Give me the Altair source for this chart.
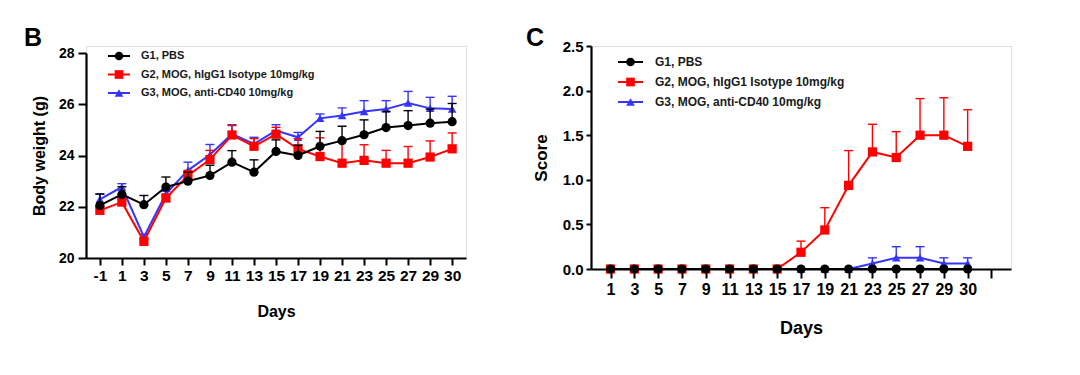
import altair as alt
import pandas as pd

# ---------------- data ----------------
groups = ["G1, PBS", "G2, MOG, hIgG1 Isotype 10mg/kg", "G3, MOG, anti-CD40 10mg/kg"]
colors = ["#000000", "#ff0000", "#3535ff"]
shapes = ["circle", "square", "triangle-up"]

# Panel B: body weight
days_b = ["-1", "1", "3", "5", "7", "9", "11", "13", "15", "17", "19", "21", "23", "25", "27", "29", "30"]
g1_bw = [22.05, 22.48, 22.08, 22.77, 23.00, 23.22, 23.74, 23.35, 24.16, 24.00, 24.36, 24.58, 24.81, 25.09, 25.17, 25.26, 25.32]
g1_bw_err = [0.45, 0.30, 0.36, 0.39, 0.35, 0.40, 0.45, 0.48, 0.45, 0.40, 0.58, 0.56, 0.58, 0.63, 0.58, 0.55, 0.71]
g2_bw = [21.86, 22.18, 20.65, 22.34, 23.22, 23.84, 24.80, 24.36, 24.83, 24.26, 23.96, 23.70, 23.81, 23.70, 23.70, 23.94, 24.26]
g2_bw_err = [0.15, 0.15, 0.10, 0.15, 0.20, 0.36, 0.37, 0.30, 0.27, 0.40, 0.73, 0.88, 0.61, 0.50, 0.65, 0.63, 0.62]
g3_bw = [22.29, 22.77, 20.82, 22.50, 23.42, 24.03, 24.84, 24.45, 24.97, 24.71, 25.45, 25.56, 25.72, 25.81, 26.05, 25.84, 25.81]
g3_bw_err = [0.20, 0.13, 0.10, 0.10, 0.32, 0.40, 0.36, 0.26, 0.23, 0.19, 0.17, 0.30, 0.42, 0.33, 0.45, 0.43, 0.50]

# Panel C: clinical score
days_c = ["1", "3", "5", "7", "9", "11", "13", "15", "17", "19", "21", "23", "25", "27", "29", "30"]
axis_slots_c = days_c + ["31"]
g1_sc = [0.0] * 16
g1_sc_err = [0.0] * 16
g2_sc = [0, 0, 0, 0, 0, 0, 0, 0, 0.1875, 0.4375, 0.9375, 1.3125, 1.25, 1.5, 1.5, 1.375]
g2_sc_err = [0, 0, 0, 0, 0, 0, 0, 0, 0.125, 0.25, 0.39, 0.31, 0.29, 0.41, 0.42, 0.41]
g3_sc = [0, 0, 0, 0, 0, 0, 0, 0, 0, 0, 0, 0.0625, 0.125, 0.125, 0.0625, 0.0625]
g3_sc_err = [0, 0, 0, 0, 0, 0, 0, 0, 0, 0, 0, 0.0625, 0.125, 0.125, 0.0625, 0.0625]

FONT = "Liberation Sans"


def panel(letter, days, slots, series, x_axis, y_scale, y_axis, width, height,
          leg_x, leg_y, leg_font, letter_xy, pad):
    X = alt.X("day:O", scale=alt.Scale(type="point", domain=slots, padding=pad), axis=x_axis)
    Y = alt.Y("mean:Q", scale=y_scale, axis=y_axis)
    layers = []
    # draw G3 first, G1 last (on top)
    for gi in [2, 1, 0]:
        m, e = series[gi]
        df = pd.DataFrame({"day": days, "mean": m, "err": e})
        df["top"] = df["mean"] + df["err"]
        dfe = df[df["err"] > 0]
        c = colors[gi]
        sw = 1.4
        layers.append(alt.Chart(dfe).mark_rule(color=c, strokeWidth=sw).encode(
            x=X, y=Y, y2="top:Q"))
        layers.append(alt.Chart(dfe).mark_tick(color=c, thickness=sw, size=9, opacity=1).encode(
            x=X, y=alt.Y("top:Q", scale=y_scale, axis=y_axis)))
        layers.append(alt.Chart(df).mark_line(color=c, strokeWidth=2).encode(x=X, y=Y))
        layers.append(alt.Chart(df).mark_point(filled=True, color=c, opacity=1,
                                               size=85 if gi < 2 else 75,
                                               shape=shapes[gi]).encode(x=X, y=Y))
    data_layer = alt.layer(*layers)

    leg_df = pd.DataFrame({"label": groups})
    LY = alt.Y("label:N", scale=alt.Scale(type="point", domain=groups, range=leg_y, padding=0), axis=None)
    LC = alt.Color("label:N", scale=alt.Scale(domain=groups, range=colors), legend=None)
    LS = alt.Shape("label:N", scale=alt.Scale(domain=groups, range=shapes), legend=None)
    leg_rule = alt.Chart(leg_df).mark_rule(strokeWidth=2).encode(
        x=alt.value(leg_x[0]), x2=alt.value(leg_x[1]), y=LY, color=LC)
    leg_pt = alt.Chart(leg_df).mark_point(filled=True, size=75, opacity=1).encode(
        x=alt.value((leg_x[0] + leg_x[1]) / 2), y=LY, color=LC, shape=LS)
    leg_txt = alt.Chart(leg_df).mark_text(align="left", baseline="middle", font=FONT,
                                          fontSize=leg_font, fontWeight="bold", color="#1a1a1a").encode(
        x=alt.value(leg_x[2]), y=LY, text="label:N")
    let_df = pd.DataFrame({"t": [letter]})
    let_txt = alt.Chart(let_df).mark_text(align="left", baseline="alphabetic", font=FONT,
                                          fontSize=25, fontWeight="bold", color="black").encode(
        x=alt.value(letter_xy[0]), y=alt.value(letter_xy[1]), text="t:N")
    legend_layer = alt.layer(leg_rule, leg_pt, leg_txt, let_txt)

    return alt.layer(data_layer, legend_layer).resolve_scale(
        y="independent").properties(width=width, height=height)


axis_common = dict(labelFont=FONT, labelFontWeight="bold", labelColor="black",
                   titleFont=FONT, titleFontWeight="bold", titleColor="black",
                   domainColor="black", domainWidth=2.2, tickColor="black", tickWidth=2,
                   grid=False)

x_axis_b = alt.Axis(title="Days", labelAngle=0, labelFontSize=15.5, titleFontSize=16,
                    tickSize=7, labelPadding=3, titlePadding=20, **axis_common)
y_axis_b = alt.Axis(title="Body weight (g)", orient="left", values=[20, 22, 24, 26, 28],
                    labelFontSize=14, titleFontSize=16, tickSize=8, labelPadding=4,
                    titlePadding=11, **axis_common)
y_scale_b = alt.Scale(domain=[20, 28], range=[212, 7], nice=False, zero=False)

x_axis_c = alt.Axis(title="Days", labelAngle=0, labelFontSize=16, titleFontSize=18,
                    tickSize=9, labelPadding=3, titlePadding=22,
                    labelExpr="datum.value == '31' ? '' : datum.value", **axis_common)
y_axis_c = alt.Axis(title="Score", orient="left", values=[0, 0.5, 1.0, 1.5, 2.0, 2.5], format=".1f",
                    labelFontSize=15, titleFontSize=17, tickSize=5, labelPadding=3,
                    titlePadding=12, **axis_common)
y_scale_c = alt.Scale(domain=[0, 2.5], nice=False, zero=True)

left = panel("B", days_b, days_b,
             [(g1_bw, g1_bw_err), (g2_bw, g2_bw_err), (g3_bw, g3_bw_err)],
             x_axis_b, y_scale_b, y_axis_b, 380, 212,
             leg_x=[22, 44, 55], leg_y=[10, 47], leg_font=11, letter_xy=(-62, 0), pad=0.63)
right = panel("C", days_c, axis_slots_c,
              [(g1_sc, g1_sc_err), (g2_sc, g2_sc_err), (g3_sc, g3_sc_err)],
              x_axis_c, y_scale_c, y_axis_c, 420, 223,
              leg_x=[27, 52, 64], leg_y=[16, 56], leg_font=12, letter_xy=(-65, 0), pad=0.82)

chart = alt.hconcat(left, right, spacing=58).properties(
    padding={"left": 23, "top": 25, "right": 0, "bottom": 0}
).configure_view(stroke=None).configure(font=FONT, background="white")

chart.save("out.html", embed_options={"renderer": "svg", "actions": False})
